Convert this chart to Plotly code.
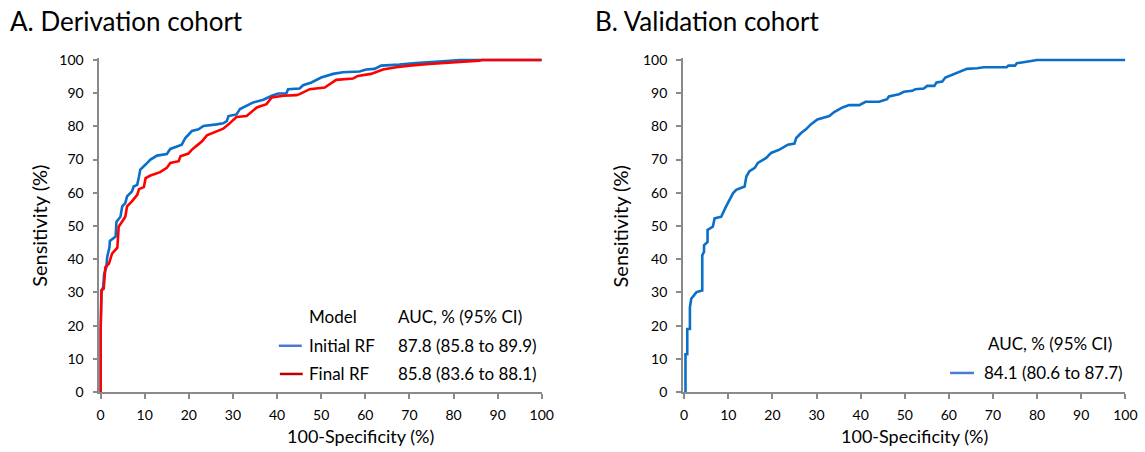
import plotly.graph_objects as go

W, H = 1145, 452

# ---- Data ----
deriv_initial_x = [0, 0, 0.2, 0.6, 0.8, 1.3, 1.5, 2.0, 2.1, 3.4, 3.6, 4.5, 4.9, 5.6, 6.0, 7.1, 7.5, 8.3, 8.7, 9.0,
                   10.2, 11.3, 12.8, 15.0, 15.8, 17.7, 18.4, 19.2, 20.7, 22.2, 23.3, 26.3, 27.8, 28.6, 29.0, 30.8,
                   31.6, 34.6, 36.9, 38.8, 40.3, 42.1, 42.5, 45.1, 45.9, 47.8, 49.3, 50.0, 52.7, 54.9, 58.7, 60.2,
                   62.1, 63.6, 67.7, 71.5, 76.7, 80.5, 81.5, 100]
deriv_initial_y = [0, 18.5, 30.6, 31.6, 35.6, 37.6, 40.7, 43.5, 45.5, 46.8, 51.3, 52.8, 55.9, 56.9, 58.9, 60.4, 61.9,
                   62.4, 64.9, 67.0, 68.5, 70.0, 71.2, 71.7, 73.2, 74.2, 74.5, 76.5, 78.6, 79.1, 80.1, 80.6, 80.9,
                   81.6, 83.1, 83.6, 85.2, 87.2, 88.0, 89.2, 89.9, 89.9, 91.2, 91.4, 92.4, 93.2, 94.2, 94.7, 95.8,
                   96.3, 96.5, 97.1, 97.3, 98.3, 98.6, 99.1, 99.5, 99.8, 100, 100]

deriv_final_x = [0, 0, 0.2, 0.7, 1.1, 1.9, 2.6, 3.4, 3.8, 4.1, 4.9, 5.6, 6.0, 7.1, 8.3, 8.7, 9.8, 10.2, 11.3, 13.5,
                 15.0, 15.8, 17.7, 18.1, 19.9, 20.7, 21.8, 23.0, 24.1, 26.0, 27.8, 29.0, 30.8, 33.1, 35.4, 37.6,
                 38.8, 41.4, 44.4, 45.1, 47.4, 50.8, 53.4, 57.2, 58.3, 61.3, 64.0, 67.0, 70.0, 74.5, 81.3, 83.5,
                 85.8, 86.5, 100]
deriv_final_y = [0, 18.5, 30.6, 31.1, 37.6, 38.7, 41.7, 42.7, 43.5, 49.8, 51.3, 52.8, 55.9, 57.4, 59.4, 61.1, 61.7,
                 64.4, 65.2, 66.2, 67.5, 69.0, 69.5, 71.0, 71.8, 73.0, 74.2, 75.5, 77.3, 78.3, 79.3, 80.6, 82.8,
                 83.1, 85.7, 86.7, 88.7, 89.2, 89.4, 89.7, 91.2, 91.7, 94.0, 94.4, 95.2, 95.8, 97.1, 97.8, 98.3,
                 98.8, 99.3, 99.6, 99.8, 100, 100]

valid_x = [0, 0.3, 0.3, 0.7, 0.7, 1.3, 1.3, 1.6, 2.8, 4.1, 4.1, 4.5, 4.5, 5.3, 5.3, 6.5, 6.9, 8.4, 9.5, 10.3, 11.1,
           11.8, 13.7, 14.1, 14.8, 16.0, 16.7, 18.6, 19.7, 21.6, 23.5, 25.0, 25.4, 26.5, 27.6, 28.7, 30.2, 32.9,
           34.0, 35.9, 37.4, 39.7, 41.1, 44.2, 46.0, 46.4, 48.7, 49.8, 51.7, 52.4, 54.3, 55.1, 56.7, 57.2, 58.5,
           59.2, 61.1, 62.6, 64.1, 66.4, 67.9, 73.1, 73.5, 75.0, 75.4, 76.9, 78.0, 79.1, 80.0, 100]
valid_y = [0, 0, 11.4, 11.4, 19.0, 19.0, 25.5, 28.1, 30.1, 30.6, 41.2, 42.2, 44.2, 45.2, 48.8, 49.8, 52.3, 52.8,
           55.9, 57.9, 59.9, 60.9, 61.9, 64.9, 66.5, 67.5, 69.0, 70.5, 72.0, 73.0, 74.5, 74.8, 76.5, 78.0, 79.1,
           80.6, 82.1, 83.1, 84.3, 85.7, 86.4, 86.4, 87.4, 87.4, 88.2, 89.0, 89.7, 90.4, 90.7, 91.2, 91.4, 92.2,
           92.2, 93.2, 93.5, 94.7, 95.8, 96.6, 97.3, 97.5, 97.8, 97.8, 98.3, 98.3, 99.0, 99.3, 99.6, 99.8, 100, 100]

tick_vals = [0, 10, 20, 30, 40, 50, 60, 70, 80, 90, 100]
panel_titles = ["A. Derivation cohort", "B. Validation cohort"]
x_title = "100-Specificity (%)"
y_title = "Sensitivity (%)"
legend_header = ["Model", "AUC, % (95% CI)"]
deriv_labels = ["Initial RF", "Final RF"]
deriv_auc = ["87.8 (85.8 to 89.9)", "85.8 (83.6 to 88.1)"]
valid_auc = ["84.1 (80.6 to 87.7)"]

# ---- Styling ----
FONT = "Lato"
BLUE = "#0a6fc8"
RED = "#ff0000"
LEG_BLUE = "#4a7bd0"
LEG_RED = "#c00000"
AXIS_COL = "#8a8a8a"


# target picture pixel -> layout pixel (compensates the capture offset/scale)
def X(t):
    return (t - 2) / 0.991


def Y(t):
    return (t - 8.4) / 0.9606


def px(t):
    return X(t) / W


def py(t):
    return 1 - Y(t) / H


fig = go.Figure()
fig.add_trace(go.Scatter(x=deriv_initial_x, y=deriv_initial_y, mode="lines",
                         line=dict(color=BLUE, width=2.6), xaxis="x", yaxis="y", showlegend=False))
fig.add_trace(go.Scatter(x=deriv_final_x, y=deriv_final_y, mode="lines",
                         line=dict(color=RED, width=2.6), xaxis="x", yaxis="y", showlegend=False))
fig.add_trace(go.Scatter(x=valid_x, y=valid_y, mode="lines",
                         line=dict(color=BLUE, width=2.6), xaxis="x2", yaxis="y2", showlegend=False))

XMIN, YMAX = -0.3, 100.6


def xdomain(p0, p100):
    a, b = X(p0), X(p100)
    unit = (b - a) / 100
    return [(a + XMIN * unit) / W, b / W]


def ydomain(p0, p100):
    a, b = Y(p0), Y(p100)  # a is bottom (larger), b is top
    unit = (a - b) / 100
    top = b - (YMAX - 100) * unit
    return [1 - a / H, 1 - top / H]


axis_common = dict(
    tickmode="array", tickvals=tick_vals, ticktext=[str(v) for v in tick_vals],
    showgrid=False, zeroline=False, showline=True, linecolor=AXIS_COL, linewidth=1.5,
    ticks="outside", ticklen=5, tickwidth=1.5, tickcolor=AXIS_COL,
    tickfont=dict(family=FONT, size=14, color="#000000"), fixedrange=True,
)
y_dom = ydomain(391, 61)
fig.update_layout(
    width=W, height=H,
    margin=dict(l=0, r=0, t=0, b=0),
    paper_bgcolor="white", plot_bgcolor="white",
    xaxis=dict(domain=xdomain(100, 543), range=[XMIN, 100], anchor="y", ticklabelstandoff=4, **axis_common),
    yaxis=dict(domain=y_dom, range=[0, YMAX], anchor="x", ticklabelstandoff=6, **axis_common),
    xaxis2=dict(domain=xdomain(686, 1129), range=[XMIN, 100], anchor="y2", ticklabelstandoff=4, **axis_common),
    yaxis2=dict(domain=y_dom, range=[0, YMAX], anchor="x2", ticklabelstandoff=6, **axis_common),
)

ann = []
# panel titles
ann.append(dict(text=panel_titles[0], x=px(10) - 3 / W, y=py(22), xanchor="left", yanchor="middle",
                font=dict(family=FONT, size=26, color="#000")))
ann.append(dict(text=panel_titles[1], x=px(597) - 3 / W, y=py(22), xanchor="left", yanchor="middle",
                font=dict(family=FONT, size=26, color="#000")))
# axis titles (as low as the page allows)
for cx in [361, 917]:
    ann.append(dict(text=x_title, x=px(cx), y=1 - 443.5 / H, xanchor="center", yanchor="middle",
                    font=dict(family=FONT, size=18, color="#000")))
for cx in [38, 622]:
    ann.append(dict(text=y_title, x=px(cx), y=py(226), xanchor="center", yanchor="middle", textangle=-90,
                    font=dict(family=FONT, size=20, color="#000")))

lf = dict(family=FONT, size=17, color="#000")
# legend A
ann.append(dict(text=legend_header[0], x=px(310) - 3 / W, y=py(316), xanchor="left", yanchor="middle", font=lf))
ann.append(dict(text=legend_header[1], x=px(400) - 3 / W, y=py(316), xanchor="left", yanchor="middle", font=lf))
for i, (lab, auc) in enumerate(zip(deriv_labels, deriv_auc)):
    yy = [345, 373][i]
    ann.append(dict(text=lab, x=px(310) - 3 / W, y=py(yy), xanchor="left", yanchor="middle", font=lf))
    ann.append(dict(text=auc, x=px(400) - 3 / W, y=py(yy), xanchor="left", yanchor="middle", font=lf))
# legend B
ann.append(dict(text=legend_header[1], x=px(1115) + 3 / W, y=py(343), xanchor="right", yanchor="middle", font=lf))
ann.append(dict(text=valid_auc[0], x=px(988) - 3 / W, y=py(372), xanchor="left", yanchor="middle", font=lf))

for a in ann:
    a.update(xref="paper", yref="paper", showarrow=False)
fig.update_layout(annotations=ann)

shapes = [
    dict(type="line", xref="paper", yref="paper", x0=px(279), x1=px(302), y0=py(345), y1=py(345),
         line=dict(color=LEG_BLUE, width=2.5)),
    dict(type="line", xref="paper", yref="paper", x0=px(280), x1=px(303), y0=py(373), y1=py(373),
         line=dict(color=LEG_RED, width=2.5)),
    dict(type="line", xref="paper", yref="paper", x0=px(953), x1=px(977), y0=py(372), y1=py(372),
         line=dict(color=LEG_BLUE, width=2.5)),
]
fig.update_layout(shapes=shapes)

fig.write_html("out.html")
